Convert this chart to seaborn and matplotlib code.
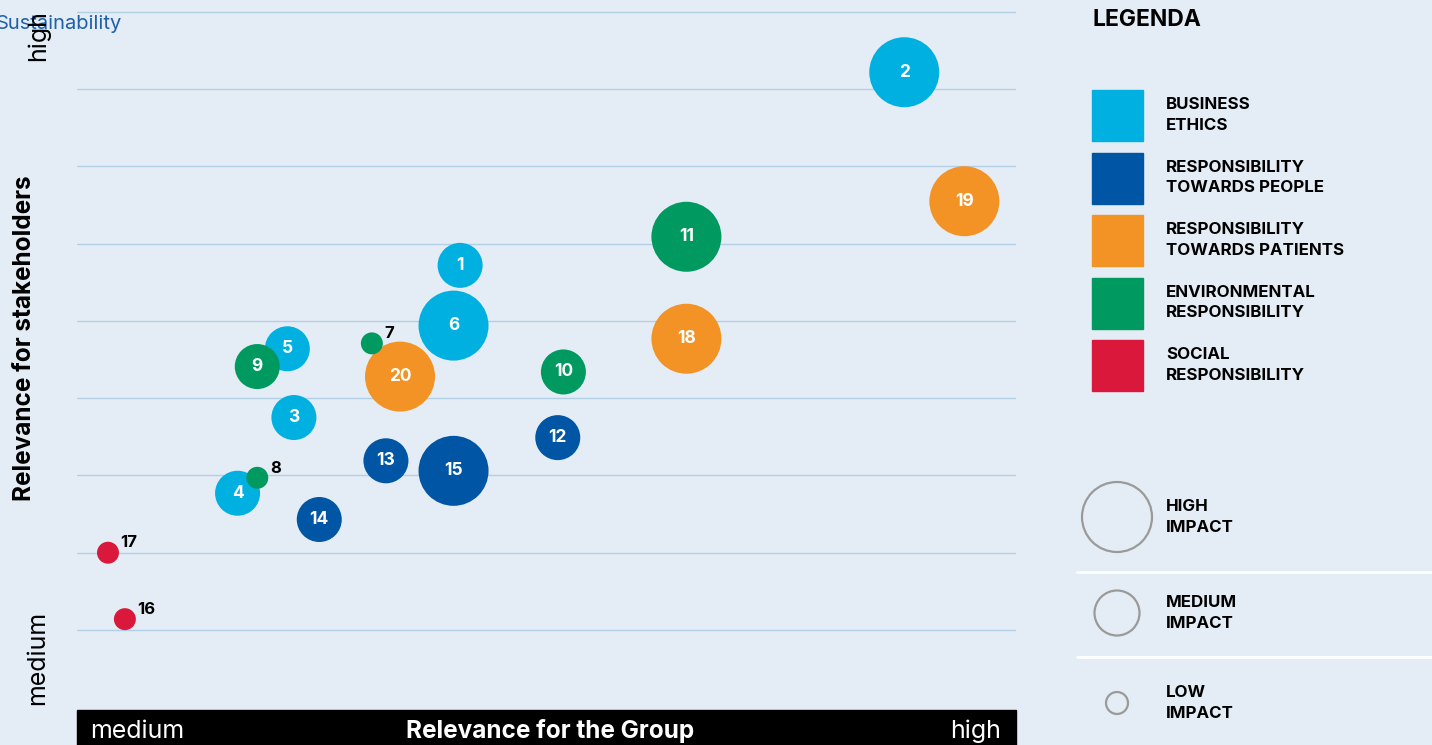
import matplotlib
matplotlib.use("Agg")
import matplotlib.pyplot as plt
import seaborn as sns
import pandas as pd

# topic data
topic_ids = [1, 2, 3, 4, 5, 6, 7, 8, 9, 10, 11, 12, 13, 14, 15, 16, 17, 18, 19, 20]
group_relevance = [4.08, 8.81, 2.31, 1.71, 2.24, 4.01, 3.14, 1.92, 1.92, 5.18,
                   6.49, 5.12, 3.29, 2.58, 4.01, 0.51, 0.33, 6.49, 9.45, 3.44]
stakeholder_relevance = [5.72, 8.22, 3.75, 2.77, 4.64, 4.94, 4.71, 2.97, 4.41, 4.34,
                         6.09, 3.49, 3.19, 2.43, 3.06, 1.14, 2.00, 4.77, 6.55, 4.28]
categories = ["business", "business", "business", "business", "business", "business",
              "environment", "environment", "environment", "environment", "environment",
              "people", "people", "people", "people", "social", "social",
              "patients", "patients", "patients"]
impact = ["medium", "high", "medium", "medium", "medium", "high", "low", "low", "medium", "medium",
          "high", "medium", "medium", "medium", "high", "low", "low", "high", "high", "high"]

category_keys = ["business", "people", "patients", "environment", "social"]
category_labels = ["BUSINESS\nETHICS", "RESPONSIBILITY\nTOWARDS PEOPLE",
                   "RESPONSIBILITY\nTOWARDS PATIENTS", "ENVIRONMENTAL\nRESPONSIBILITY",
                   "SOCIAL\nRESPONSIBILITY"]
category_colors = ["#00b0e0", "#0055a4", "#f39325", "#009a61", "#d9183b"]
impact_keys = ["high", "medium", "low"]
impact_labels = ["HIGH\nIMPACT", "MEDIUM\nIMPACT", "LOW\nIMPACT"]
impact_sizes = [2540, 1050, 250]

BG = "#e4edf5"
W, H = 1432, 745

sns.set_theme(style="white")
plt.rcParams["font.family"] = ["Inter", "DejaVu Sans"]

df = pd.DataFrame({
    "id": topic_ids,
    "x": group_relevance,
    "y": stakeholder_relevance,
    "category": categories,
    "impact": impact,
})
size_map = dict(zip(impact_keys, impact_sizes))
df["s"] = df["impact"].map(size_map)
# big bubbles first so the small ones sit on top
df = df.sort_values("s", ascending=False, kind="stable")

fig = plt.figure(figsize=(W / 100, H / 100), dpi=100, facecolor=BG)
ax = fig.add_axes([77 / W, 35 / H, 939 / W, 710 / H])
ax.set_facecolor(BG)

sns.scatterplot(data=df, x="x", y="y", hue="category", hue_order=category_keys,
                palette=dict(zip(category_keys, category_colors)),
                size="impact", sizes=size_map, size_order=impact_keys,
                linewidth=0, alpha=1, legend=False, ax=ax)

for _, r in df.iterrows():
    if r["impact"] == "low":
        ax.annotate(str(r["id"]), (r["x"], r["y"]), xytext=(9, 7), textcoords="offset points",
                    ha="left", va="center", fontsize=12, fontweight="bold", color="black")
    else:
        ax.text(r["x"], r["y"], str(r["id"]), ha="center", va="center",
                fontsize=12.5, fontweight="bold", color="white")

ax.set_xlim(0, 10)
ax.set_ylim(-0.036, 9.155)
ax.set_yticks(range(1, 10))
ax.set_xticks([])
ax.set_yticklabels([])
ax.tick_params(length=0)
ax.grid(axis="y", color="#b3cfe6", linewidth=1)
ax.set_axisbelow(True)
ax.set_xlabel("")
ax.set_ylabel("")
sns.despine(ax=ax, left=True, bottom=True)

# overlay in pixel units for the frame texts and the legend
ov = fig.add_axes([0, 0, 1, 1])
ov.patch.set_alpha(0)
ov.set_xlim(0, W)
ov.set_ylim(H, 0)
ov.axis("off")

ov.text(-4, 24, "Sustainability", ha="left", va="center", fontsize=14.5, color="#1f5fa8")
ov.text(38, 36, "high", rotation=90, ha="center", va="center", fontsize=18, color="black")
ov.text(38, 658, "medium", rotation=90, ha="center", va="center", fontsize=18, color="black")
ov.text(25, 338, "Relevance for stakeholders", rotation=90, ha="center", va="center",
        fontsize=17.5, fontweight="bold", color="black")

ov.add_patch(plt.Rectangle((77, 710), 939, 40, color="black", clip_on=False))
ov.text(90, 731, "medium", ha="left", va="center", fontsize=18, color="white")
ov.text(550, 731, "Relevance for the Group", ha="center", va="center", fontsize=17.5,
        fontweight="bold", color="white")
ov.text(1001, 731, "high", ha="right", va="center", fontsize=18, color="white")

ov.text(1093, 20, "LEGENDA", ha="left", va="center", fontsize=16.5, fontweight="bold", color="black")
for i, (lab, col) in enumerate(zip(category_labels, category_colors)):
    top = 90 + i * 62.5
    ov.add_patch(plt.Rectangle((1092, top), 51, 51, color=col))
    ov.text(1166, top + 25, lab, ha="left", va="center", fontsize=12.2, fontweight="bold",
            color="black", linespacing=1.45)

legend_y = [517, 613, 703]
for lab, s, yy in zip(impact_labels, impact_sizes, legend_y):
    ov.scatter([1117], [yy], s=s, facecolor="none", edgecolor="#9a9a9a", linewidth=1.6)
    ov.text(1166, yy, lab, ha="left", va="center", fontsize=12.2, fontweight="bold",
            color="black", linespacing=1.45)
for yy in [572, 657]:
    ov.plot([1077, W], [yy, yy], color="white", linewidth=2)

fig.savefig("out.png", dpi=100, facecolor=BG)
plt.close(fig)
